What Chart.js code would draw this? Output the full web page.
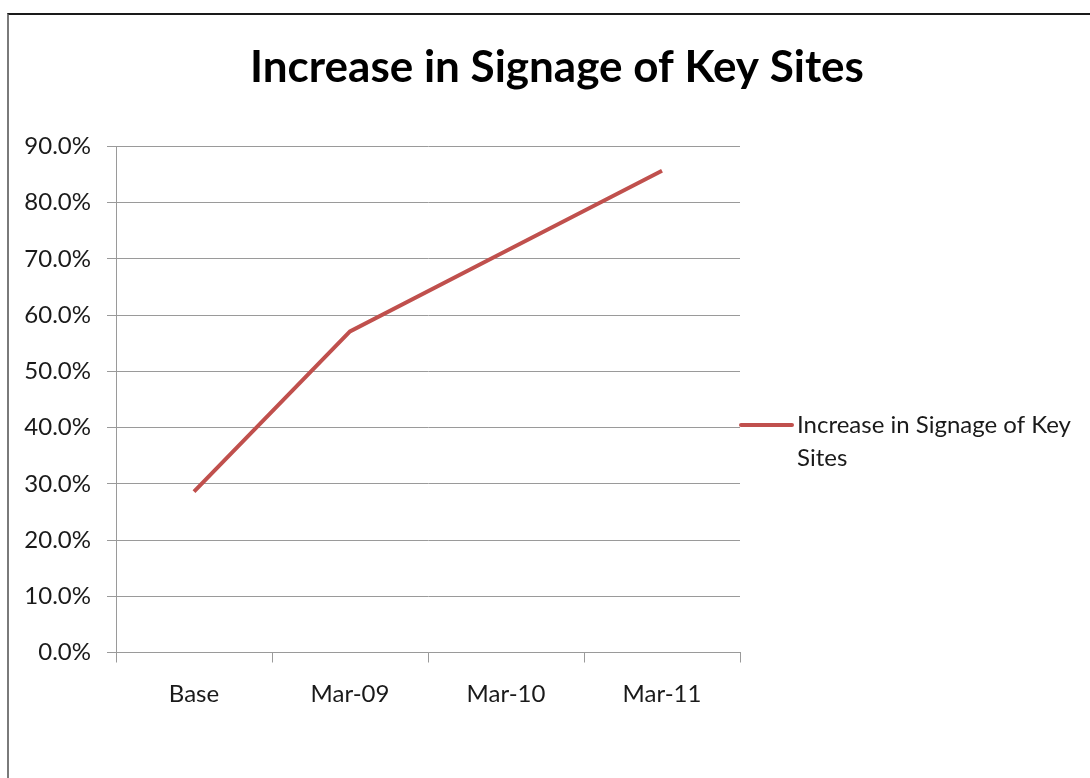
<!DOCTYPE html>
<html>
<head>
<meta charset="utf-8">
<script src="https://cdn.jsdelivr.net/npm/chart.js@4"></script>
<style>
  html, body { margin: 0; padding: 0; background: #fff; }
  #wrap { position: relative; width: 1090px; height: 778px; overflow: hidden; }
  #frame { position: absolute; left: 7px; top: 13px; width: 1100px; height: 800px;
           border-top: 2px solid #1a1a1a; border-left: 2px solid #7a7a7a; }
  canvas { position: absolute; left: 0; top: 0; }
</style>
</head>
<body>
<div id="wrap">
  <div id="frame"></div>
  <canvas id="chart" width="1090" height="778"></canvas>
</div>
<script>
const categories = ["Base", "Mar-09", "Mar-10", "Mar-11"];
const signage = [28.6, 57.1, 71.4, 85.7];
const seriesName = "Increase in Signage of Key Sites";
const legendLines = ["Increase in Signage of Key", "Sites"];

const FONT = "Lato, 'Open Sans', 'DejaVu Sans', sans-serif";
const RED = "#C0504D";
const GRID = "#9a9a9a";

// title and legend drawn by hand: the title is centred on the whole
// canvas and the legend label wraps onto two lines
const chartText = {
    id: "chartText",
    afterDraw(chart) {
        const ctx = chart.ctx;
        const area = chart.chartArea;
        ctx.save();
        ctx.fillStyle = "#000";
        ctx.font = "bold 44px " + FONT;
        ctx.textAlign = "center";
        ctx.textBaseline = "middle";
        ctx.fillText(seriesName, 557, 68);

        const y = area.top + 278.5;
        ctx.strokeStyle = RED;
        ctx.lineWidth = 4;
        ctx.lineCap = "round";
        ctx.beginPath();
        ctx.moveTo(area.right + 1, y);
        ctx.lineTo(area.right + 52, y);
        ctx.stroke();
        ctx.fillStyle = "#1a1a1a";
        ctx.font = "24px " + FONT;
        ctx.textAlign = "left";
        legendLines.forEach((line, i) => {
            ctx.fillText(line, area.right + 57, y + i * 33);
        });
        ctx.restore();
    }
};

new Chart(document.getElementById("chart"), {
    type: "line",
    data: {
        labels: categories,
        datasets: [{
            label: seriesName,
            data: signage,
            borderColor: RED,
            backgroundColor: RED,
            borderWidth: 4,
            pointRadius: 0,
            tension: 0
        }]
    },
    options: {
        responsive: false,
        animation: false,
        layout: { padding: { left: 0, right: 350, top: 146.5, bottom: 0 } },
        plugins: {
            legend: { display: false },
            tooltip: { enabled: false },
            title: { display: false }
        },
        scales: {
            x: {
                offset: true,
                grid: { offset: true, drawOnChartArea: false, tickLength: 10, color: GRID },
                border: { color: GRID, width: 1 },
                ticks: { color: "#1a1a1a", font: { family: FONT, size: 24 }, padding: 17 },
                afterFit(scale) { scale.height = 778 - 652.5; }
            },
            y: {
                min: 0,
                max: 90,
                grid: { color: GRID, tickLength: 9 },
                border: { color: GRID, width: 1 },
                ticks: {
                    stepSize: 10,
                    color: "#1a1a1a",
                    font: { family: FONT, size: 24 },
                    padding: 16,
                    callback: v => v.toFixed(1) + "%"
                },
                afterFit(scale) { scale.width = 116; }
            }
        }
    },
    plugins: [chartText]
});
</script>
</body>
</html>
